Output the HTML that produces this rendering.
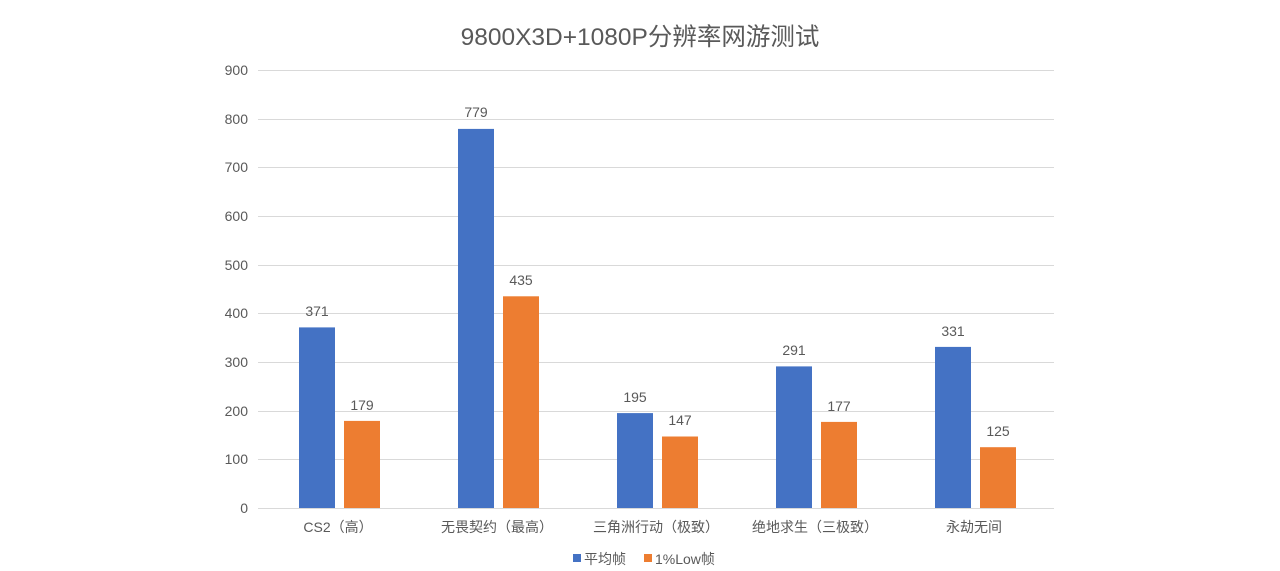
<!DOCTYPE html>
<html><head><meta charset="utf-8"><style>
body{margin:0;background:#fff}
svg{display:block}
text{font-family:"Liberation Sans","Noto Sans CJK SC",sans-serif;fill:#595959}
</style></head><body>
<svg width="1280" height="571" xmlns="http://www.w3.org/2000/svg">
<rect width="1280" height="571" fill="#fff"/>
<text x="640" y="45" font-size="24.5" text-anchor="middle">9800X3D+1080P分辨率网游测试</text>
<g stroke="#d9d9d9" stroke-width="1">
<line x1="258" x2="1054" y1="70.5" y2="70.5"/>
<line x1="258" x2="1054" y1="119.5" y2="119.5"/>
<line x1="258" x2="1054" y1="167.5" y2="167.5"/>
<line x1="258" x2="1054" y1="216.5" y2="216.5"/>
<line x1="258" x2="1054" y1="265.5" y2="265.5"/>
<line x1="258" x2="1054" y1="313.5" y2="313.5"/>
<line x1="258" x2="1054" y1="362.5" y2="362.5"/>
<line x1="258" x2="1054" y1="411.5" y2="411.5"/>
<line x1="258" x2="1054" y1="459.5" y2="459.5"/>
<line x1="258" x2="1054" y1="508.5" y2="508.5"/>
</g>
<g font-size="14" text-anchor="end">
<text x="248" y="75">900</text><text x="248" y="124">800</text><text x="248" y="172">700</text>
<text x="248" y="221">600</text><text x="248" y="270">500</text><text x="248" y="318">400</text>
<text x="248" y="367">300</text><text x="248" y="416">200</text><text x="248" y="464">100</text>
<text x="248" y="513">0</text>
</g>
<g fill="#4472c4">
<rect x="299" y="327.4" width="36" height="180.6"/>
<rect x="458" y="128.9" width="36" height="379.1"/>
<rect x="617" y="413.1" width="36" height="94.9"/>
<rect x="776" y="366.4" width="36" height="141.6"/>
<rect x="935" y="346.9" width="36" height="161.1"/>
</g>
<g fill="#ed7d31">
<rect x="344" y="420.9" width="36" height="87.1"/>
<rect x="503" y="296.3" width="36" height="211.7"/>
<rect x="662" y="436.5" width="36" height="71.5"/>
<rect x="821" y="421.9" width="36" height="86.1"/>
<rect x="980" y="447.2" width="36" height="60.8"/>
</g>
<g font-size="14" text-anchor="middle">
<text x="317" y="316">371</text><text x="362" y="410">179</text>
<text x="476" y="117">779</text><text x="521" y="285">435</text>
<text x="635" y="402">195</text><text x="680" y="425">147</text>
<text x="794" y="355">291</text><text x="839" y="411">177</text>
<text x="953" y="336">331</text><text x="998" y="436">125</text>
<text x="338" y="532">CS2（高）</text>
<text x="497" y="532">无畏契约（最高）</text>
<text x="656" y="532">三角洲行动（极致）</text>
<text x="815" y="532">绝地求生（三极致）</text>
<text x="974" y="532">永劫无间</text>
</g>
<rect x="573" y="554" width="8" height="8" fill="#4472c4"/>
<text x="584" y="564" font-size="14">平均帧</text>
<rect x="644" y="554" width="8" height="8" fill="#ed7d31"/>
<text x="655" y="564" font-size="14">1%Low帧</text>
</svg>
</body></html>
